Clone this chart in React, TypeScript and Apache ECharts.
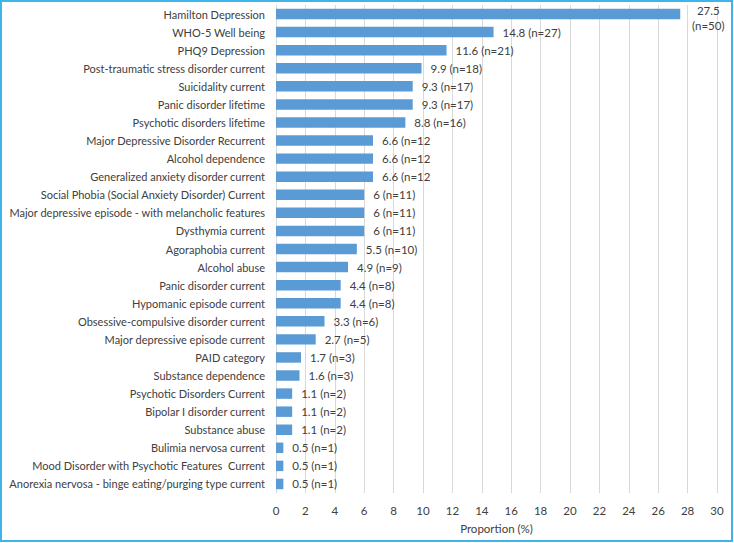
import React, { useEffect, useRef } from "react";
import * as echarts from "echarts";

const categories = [
  "Hamilton Depression",
  "WHO-5 Well being",
  "PHQ9 Depression",
  "Post-traumatic stress disorder current",
  "Suicidality current",
  "Panic disorder lifetime",
  "Psychotic disorders lifetime",
  "Major Depressive Disorder Recurrent",
  "Alcohol dependence",
  "Generalized anxiety disorder current",
  "Social Phobia (Social Anxiety Disorder) Current",
  "Major depressive episode - with melancholic features",
  "Dysthymia current",
  "Agoraphobia current",
  "Alcohol abuse",
  "Panic disorder current",
  "Hypomanic episode current",
  "Obsessive-compulsive disorder current",
  "Major depressive episode current",
  "PAID category",
  "Substance dependence",
  "Psychotic Disorders Current",
  "Bipolar I disorder current",
  "Substance abuse",
  "Bulimia nervosa current",
  "Mood Disorder with Psychotic Features  Current",
  "Anorexia nervosa - binge eating/purging type current",
];

const proportions = [
  27.5, 14.8, 11.6, 9.9, 9.3, 9.3, 8.8, 6.6, 6.6, 6.6, 6, 6, 6, 5.5, 4.9, 4.4,
  4.4, 3.3, 2.7, 1.7, 1.6, 1.1, 1.1, 1.1, 0.5, 0.5, 0.5,
];

const dataLabels = [
  "27.5\n(n=50)",
  "14.8 (n=27)",
  "11.6 (n=21)",
  "9.9 (n=18)",
  "9.3 (n=17)",
  "9.3 (n=17)",
  "8.8 (n=16)",
  "6.6 (n=12",
  "6.6 (n=12",
  "6.6 (n=12",
  "6 (n=11)",
  "6 (n=11)",
  "6 (n=11)",
  "5.5 (n=10)",
  "4.9 (n=9)",
  "4.4 (n=8)",
  "4.4 (n=8)",
  "3.3 (n=6)",
  "2.7 (n=5)",
  "1.7 (n=3)",
  "1.6 (n=3)",
  "1.1 (n=2)",
  "1.1 (n=2)",
  "1.1 (n=2)",
  "0.5 (n=1)",
  "0.5 (n=1)",
  "0.5 (n=1)",
];

const xTicks = { min: 0, max: 30, interval: 2 };
const xAxisTitle = "Proportion (%)";

const FONT = "Lato, 'Open Sans', 'Liberation Sans', sans-serif";

export default function App() {
  const ref = useRef<HTMLDivElement>(null);
  useEffect(() => {
    document.body.style.margin = "0";
    if (!ref.current) return;
    const chart = echarts.init(ref.current, undefined, { renderer: "svg" });
    const seriesData = proportions.map((v, i) =>
      dataLabels[i].includes("\n")
        ? { value: v, label: { align: "center", offset: [19, 4], lineHeight: 15 } }
        : { value: v }
    );
    chart.setOption({
      animation: false,
      backgroundColor: "#ffffff",
      textStyle: { fontFamily: FONT },
      graphic: [
        {
          type: "rect",
          shape: { x: 1, y: 1, width: 731, height: 540 },
          style: { fill: "none", stroke: "#3DB5E8", lineWidth: 2 },
          silent: true,
        },
      ],
      grid: {
        left: 276,
        right: 17,
        top: 5,
        bottom: 50,
        containLabel: false,
        outerBoundsMode: "none",
      },
      xAxis: {
        type: "value",
        min: xTicks.min,
        max: xTicks.max,
        interval: xTicks.interval,
        name: xAxisTitle,
        nameLocation: "middle",
        nameGap: 29,
        nameTextStyle: { fontSize: 11.5, color: "#404040", fontFamily: FONT },
        axisLine: { show: false },
        axisTick: { show: false },
        axisLabel: { fontSize: 11.5, color: "#404040", margin: 11, fontFamily: FONT },
        splitLine: { show: true, lineStyle: { color: "#d9d9d9", width: 1 } },
      },
      yAxis: {
        type: "category",
        data: categories,
        inverse: true,
        axisLine: { show: true, lineStyle: { color: "#d9d9d9" } },
        axisTick: { show: false },
        axisLabel: { fontSize: 11, color: "#404040", margin: 11, fontFamily: FONT },
      },
      series: [
        {
          type: "bar",
          data: seriesData,
          barWidth: "58%",
          itemStyle: { color: "#5B9BD5" },
          label: {
            show: true,
            position: "right",
            distance: 9,
            fontSize: 11.5,
            color: "#404040",
            fontFamily: FONT,
            lineHeight: 14,
            formatter: (p: any) => dataLabels[p.dataIndex],
          },
        },
      ],
    });
    return () => chart.dispose();
  }, []);
  return <div ref={ref} style={{ width: 734, height: 543 }} />;
}
